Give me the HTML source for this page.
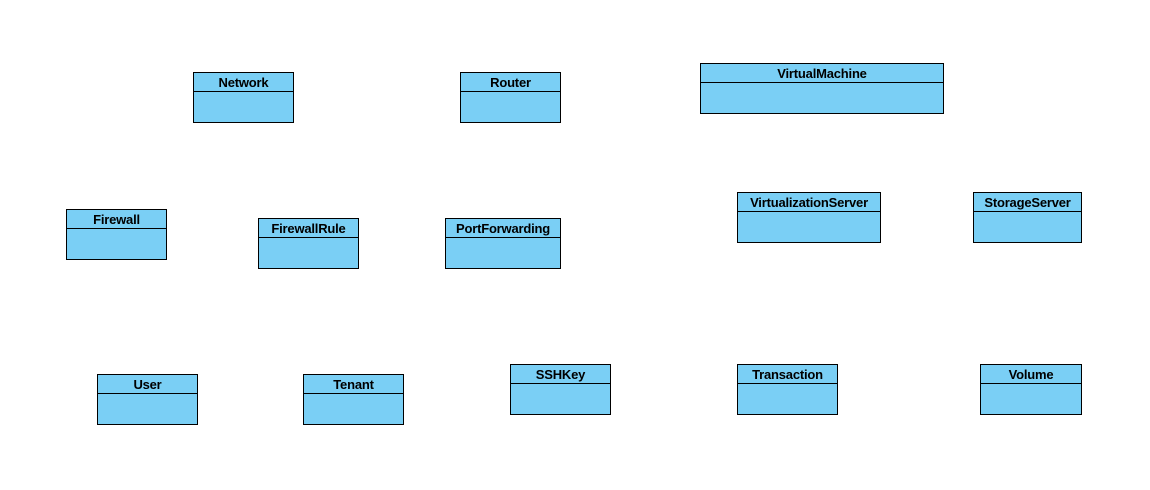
<!DOCTYPE html>
<html><head><style>
body{margin:0;width:1150px;height:490px;background:#fff;position:relative;font-family:"Liberation Sans",Arial,sans-serif;}
.b{position:absolute;background:#7acff5;border:1px solid #000;box-sizing:border-box;}
.h{height:18px;border-bottom:1px solid #000;font-weight:bold;font-size:13px;line-height:20px;text-align:center;color:#000;letter-spacing:-0.2px;}
</style></head><body>
<div class="b" style="left:193px;top:72px;width:101px;height:51px"><div class="h">Network</div></div>
<div class="b" style="left:460px;top:72px;width:101px;height:51px"><div class="h">Router</div></div>
<div class="b" style="left:700px;top:63px;width:244px;height:51px"><div class="h">VirtualMachine</div></div>
<div class="b" style="left:66px;top:209px;width:101px;height:51px"><div class="h">Firewall</div></div>
<div class="b" style="left:258px;top:218px;width:101px;height:51px"><div class="h">FirewallRule</div></div>
<div class="b" style="left:445px;top:218px;width:116px;height:51px"><div class="h">PortForwarding</div></div>
<div class="b" style="left:737px;top:192px;width:144px;height:51px"><div class="h">VirtualizationServer</div></div>
<div class="b" style="left:973px;top:192px;width:109px;height:51px"><div class="h">StorageServer</div></div>
<div class="b" style="left:97px;top:374px;width:101px;height:51px"><div class="h">User</div></div>
<div class="b" style="left:303px;top:374px;width:101px;height:51px"><div class="h">Tenant</div></div>
<div class="b" style="left:510px;top:364px;width:101px;height:51px"><div class="h">SSHKey</div></div>
<div class="b" style="left:737px;top:364px;width:101px;height:51px"><div class="h">Transaction</div></div>
<div class="b" style="left:980px;top:364px;width:102px;height:51px"><div class="h">Volume</div></div>
</body></html>
